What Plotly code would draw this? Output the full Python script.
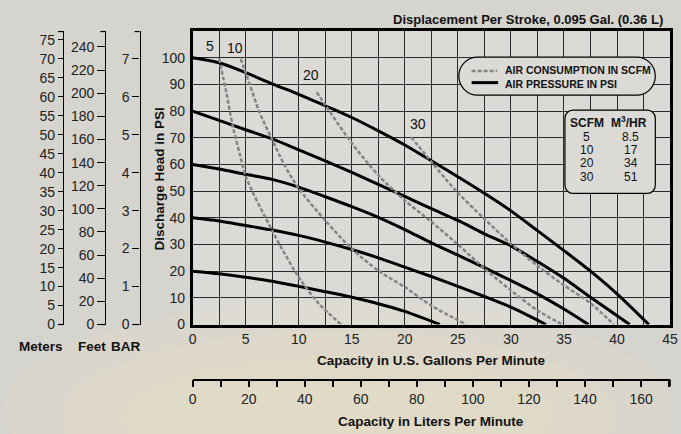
import plotly.graph_objects as go

W, H = 681, 434
K = 0.98  # the page is drawn about 2% shorter than asked; positions below are stretched to match

# pressure curves (PSI), capacity in US gpm
p20_x = [0, 2.5, 5, 7.5, 10, 12.5, 15, 17.5, 20, 23.3]
p20_y = [20, 19, 17.7, 16.2, 14.3, 12.3, 10.2, 7.8, 4.9, 0]
p40_x = [0, 2.5, 5, 7.5, 10, 12.5, 15, 17.5, 20, 22.5, 25, 27.5, 30, 33.3]
p40_y = [40, 38.8, 37.1, 35.4, 33.4, 30.9, 28.1, 25, 21.5, 18, 14.3, 10.5, 6.5, 0]
p60_x = [0, 2.5, 5, 7.5, 10, 12.5, 15, 17.5, 20, 22.5, 25, 27.5, 30, 32.5, 35, 37.3]
p60_y = [60, 58.3, 56.3, 54.4, 51.5, 47.9, 44.2, 40.2, 35.6, 30.6, 26, 21.3, 16.5, 11.5, 5.8, 0]
p80_x = [0, 2.5, 5, 7.5, 10, 12.5, 15, 17.5, 20, 22.5, 25, 27.5, 30, 32.5, 35, 37.5, 41.2]
p80_y = [80, 76.5, 73, 69.6, 65.5, 61.3, 57, 52.5, 48, 43.4, 39, 34, 29.5, 23.6, 17.3, 10.2, 0]
p100_x = [0, 2.5, 5, 7.5, 10, 12.5, 15, 17.5, 20, 22.5, 25, 27.5, 30, 32.5, 35, 37.5, 40, 43]
p100_y = [100, 98.1, 94.4, 90.2, 86.3, 82, 77.6, 72.6, 67.3, 61.4, 55.4, 49.2, 42.6, 35.2, 27.7, 20, 11.5, 0]

# air consumption curves (SCFM)
a5_x = [2.5, 3.2, 3.8, 4.44, 5.06, 7.5, 10, 11.9, 14]
a5_y = [99.6, 86.5, 74, 64, 55, 35.2, 17.7, 7.8, 0]
a10_x = [4.54, 5.37, 6.3, 7.53, 8.6, 10, 12.5, 15, 17.5, 20, 22.5, 25.8]
a10_y = [99.6, 90.2, 79.6, 69, 60.2, 51, 39, 28.4, 20.2, 14, 7.1, 0]
a20_x = [11.7, 12.5, 15, 17.5, 20, 22.5, 25, 27.5, 30, 32.5, 34.85]
a20_y = [87.1, 82.3, 68, 56, 46.5, 38.5, 30, 21, 12.8, 5.3, 0]
a30_x = [20.6, 22.65, 24.8, 27.5, 30, 32.5, 35, 37.5, 39.7]
a30_y = [70.2, 60.3, 50.2, 39.6, 30.3, 22, 14.7, 8, 0]

air_labels = ["5", "10", "20", "30"]
air_label_x = [1.6, 4.0, 11.2, 21.2]
air_label_y = [104.3, 103.7, 93.7, 75.3]

scfm = ["5", "10", "20", "30"]
m3hr = ["8.5", "17", "34", "51"]

gpm_ticks = [0, 5, 10, 15, 20, 25, 30, 35, 40, 45]
psi_ticks = [0, 10, 20, 30, 40, 50, 60, 70, 80, 90, 100]
lpm_ticks = [0, 20, 40, 60, 80, 100, 120, 140, 160]
meter_ticks = list(range(0, 80, 5))
feet_ticks = list(range(0, 260, 20))
bar_ticks = [0, 1, 2, 3, 4, 5, 6, 7]

PSI_MAX = 110
GPM_MAX = 45

FONT = "Liberation Sans Narrow, Arial Narrow, Liberation Sans, Arial"
BG = "#d6d4cf"
PLOT_BG = "#dbdad7"


def px(x):
    return x / W


def py(y):
    return 1 - (y / K) / H


fig = go.Figure()

for xs, ys in [(p20_x, p20_y), (p40_x, p40_y), (p60_x, p60_y), (p80_x, p80_y), (p100_x, p100_y)]:
    fig.add_trace(go.Scatter(x=xs, y=ys, mode="lines", line=dict(color="black", width=3, shape="spline", smoothing=0.8),
                             showlegend=False, hoverinfo="skip"))

for xs, ys in [(a5_x, a5_y), (a10_x, a10_y), (a20_x, a20_y), (a30_x, a30_y)]:
    fig.add_trace(go.Scatter(x=xs, y=ys, mode="lines",
                             line=dict(color="#858585", width=2.5, dash="4px,2px", shape="spline", smoothing=0.8),
                             showlegend=False, hoverinfo="skip"))

# dummy traces so the extra axes get drawn
for ya in ["y2", "y3", "y4"]:
    fig.add_trace(go.Scatter(x=[None], y=[None], yaxis=ya, showlegend=False, hoverinfo="skip"))
fig.add_trace(go.Scatter(x=[None], y=[None], xaxis="x2", showlegend=False, hoverinfo="skip"))

xdom = [px(192), px(678)]
ydom = [py(324), py(31)]

tickfont = dict(family=FONT, size=14, color="#222")

fig.update_layout(
    width=W, height=H,
    margin=dict(l=0, r=0, t=0, b=0),
    paper_bgcolor=BG, plot_bgcolor=PLOT_BG,
    font=dict(family=FONT, size=14, color="#111"),
    xaxis=dict(domain=xdom, range=[0, GPM_MAX], tickvals=gpm_ticks, tickfont=tickfont,
               showgrid=True, gridcolor="#2a2a2a", gridwidth=1.2, ticklabeloverflow="allow",
               minor=dict(dtick=2.5, showgrid=True, gridcolor="#2a2a2a", gridwidth=1.2),
               showline=True, linecolor="black", linewidth=2.5, mirror=True,
               ticks="", zeroline=False, fixedrange=True),
    yaxis=dict(domain=ydom, range=[0, PSI_MAX], tickvals=psi_ticks, tickfont=tickfont,
               showgrid=True, gridcolor="#2a2a2a", gridwidth=1.2,
               showline=True, linecolor="black", linewidth=2.5, mirror=True,
               ticks="", ticklabelstandoff=2, zeroline=False, fixedrange=True),
    xaxis2=dict(overlaying="x", anchor="free", position=py(379), side="bottom",
                range=[0, GPM_MAX * 3.7854], tickvals=lpm_ticks, tickfont=tickfont,
                ticks="outside", ticklen=7, tickcolor="black", tickwidth=1.5,
                minor=dict(dtick=10, ticks="outside", ticklen=7, tickcolor="black", tickwidth=1.5),
                showline=True, linecolor="black", linewidth=1.5, showgrid=False, zeroline=False),
    yaxis2=dict(overlaying="y", anchor="free", position=px(60), side="left",
                range=[0, PSI_MAX / 1.4223], tickvals=meter_ticks, tickfont=tickfont,
                ticks="outside", ticklen=5, tickcolor="black", tickwidth=1.2,
                showline=True, linecolor="black", linewidth=1.2, showgrid=False, zeroline=False),
    yaxis3=dict(overlaying="y", anchor="free", position=px(103), side="left",
                range=[0, PSI_MAX * 2.3067], tickvals=feet_ticks, tickfont=tickfont,
                ticks="outside", ticklen=8, tickcolor="black", tickwidth=1.2,
                showline=True, linecolor="black", linewidth=1.2, showgrid=False, zeroline=False),
    yaxis4=dict(overlaying="y", anchor="free", position=px(138), side="left",
                range=[0, PSI_MAX / 14.23], tickvals=bar_ticks, tickfont=tickfont,
                ticks="outside", ticklen=7, tickcolor="black", tickwidth=1.2,
                showline=True, linecolor="black", linewidth=1.2, showgrid=False, zeroline=False),
)

shapes = []
# soft warm glow at the bottom of the page
for x0, x1, y0, y1 in [(0, 681, 520, 300), (60, 620, 500, 330), (120, 560, 480, 355), (190, 490, 460, 380)]:
    shapes.append(dict(type="circle", xref="paper", yref="paper", x0=px(x0), x1=px(x1), y0=py(y0), y1=py(y1),
                       fillcolor="#e8ddc6", opacity=0.22, line=dict(width=0), layer="below"))
# end caps on the left scales
for ax_x in [60, 103, 138]:
    for yy in [31.5, 324]:
        shapes.append(dict(type="line", xref="paper", yref="paper", x0=px(ax_x - 5), x1=px(ax_x),
                           y0=py(yy), y1=py(yy), line=dict(color="black", width=1.2)))
shapes.append(dict(type="line", xref="paper", yref="paper", x0=px(678), x1=px(678),
                   y0=py(379), y1=py(386), line=dict(color="black", width=1.5)))


def rounded_box(x0, y0, x1, y1, r):
    pts = [
        ("M", [(x0 + r, y0)]),
        ("L", [(x1 - r, y0)]),
        ("C", [(x1 - r * 0.45, y0), (x1, y0 + r * 0.45), (x1, y0 + r)]),
        ("L", [(x1, y1 - r)]),
        ("C", [(x1, y1 - r * 0.45), (x1 - r * 0.45, y1), (x1 - r, y1)]),
        ("L", [(x0 + r, y1)]),
        ("C", [(x0 + r * 0.45, y1), (x0, y1 - r * 0.45), (x0, y1 - r)]),
        ("L", [(x0, y0 + r)]),
        ("C", [(x0, y0 + r * 0.45), (x0 + r * 0.45, y0), (x0 + r, y0)]),
    ]
    s = ""
    for cmd, ps in pts:
        s += cmd + " " + " ".join(f"{px(a):.5f},{py(b):.5f}" for a, b in ps) + " "
    return s + "Z"


shapes.append(dict(type="path", xref="paper", yref="paper", path=rounded_box(463, 57, 663, 95, 19),
                   fillcolor=PLOT_BG, line=dict(color="black", width=1.2), layer="above"))
shapes.append(dict(type="path", xref="paper", yref="paper", path=rounded_box(571, 110, 663, 193, 8),
                   fillcolor=PLOT_BG, line=dict(color="black", width=1.2), layer="above"))
shapes.append(dict(type="line", xref="paper", yref="paper", x0=px(476), x1=px(502), y0=py(71), y1=py(71),
                   line=dict(color="#858585", width=2.5, dash="4px,2px"), layer="above"))
shapes.append(dict(type="line", xref="paper", yref="paper", x0=px(476), x1=px(503), y0=py(82.5), y1=py(82.5),
                   line=dict(color="black", width=3), layer="above"))
fig.update_layout(shapes=shapes)

ann = []


def note(text, x, y, size=14, bold=False, xanchor="center", angle=0, xref="paper", yref="paper"):
    t = f"<b>{text}</b>" if bold else text
    ann.append(dict(text=t, x=x, y=y, xref=xref, yref=yref, showarrow=False, xanchor=xanchor,
                    yanchor="middle", textangle=angle, font=dict(family=FONT, size=size, color="#111")))


note("Displacement Per Stroke, 0.095 Gal. (0.36 L)", px(673), py(19), size=13, bold=True, xanchor="right")
note("Discharge Head in PSI", px(158), py(179), size=13.5, bold=True, angle=-90)
note("Meters", px(38), py(346), size=13.5, bold=True)
note("Feet", px(90), py(346), size=13.5, bold=True)
note("BAR", px(124), py(346), size=13.5, bold=True)
note("Capacity in U.S. Gallons Per Minute", px(435), py(360), size=13.5, bold=True)
note("Capacity in Liters Per Minute", px(435), py(421), size=13.5, bold=True)
note("AIR CONSUMPTION IN SCFM", px(508), py(70), size=10.5, bold=True, xanchor="left")
note("AIR PRESSURE IN PSI", px(508), py(84), size=10.5, bold=True, xanchor="left")
note("SCFM", px(593), py(123), size=12, bold=True)
note("M<sup>3</sup>/HR", px(636), py(122), size=12, bold=True)
row_y = [137, 149.5, 163, 176.5]
for s, m, yy in zip(scfm, m3hr, row_y):
    note(s, px(593), py(yy), size=12)
    note(m, px(638), py(yy), size=12)
for t, x, y in zip(air_labels, air_label_x, air_label_y):
    note(t, x, y, xref="x", yref="y")

fig.update_layout(annotations=ann)

fig.write_html("out.html", config={"displayModeBar": False},
               post_script="document.body.style.margin='0';document.documentElement.style.background='" + BG + "';")
